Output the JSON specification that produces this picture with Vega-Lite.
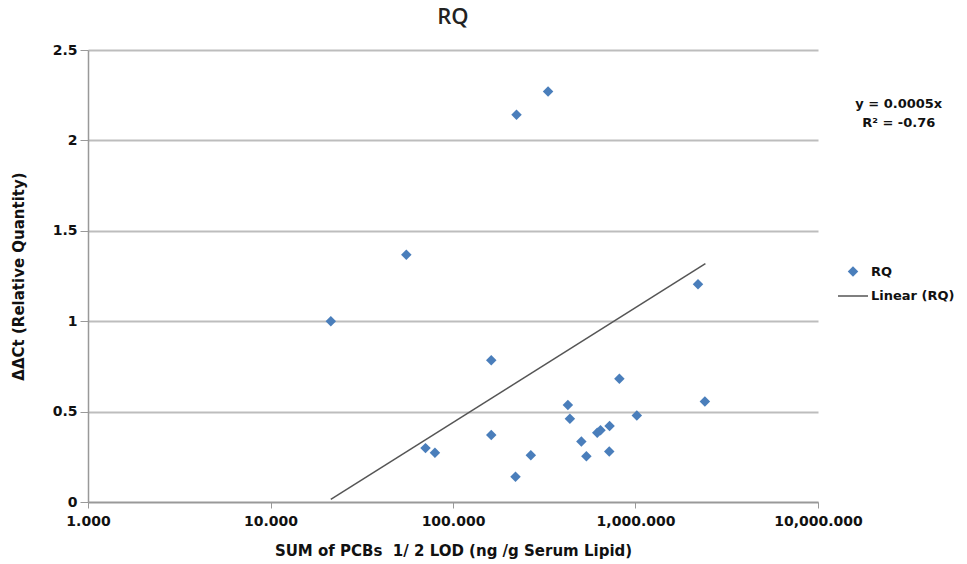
{
  "$schema": "https://vega.github.io/schema/vega-lite/v6.json",
  "width": 730,
  "height": 452,
  "padding": {"left": 11, "top": 6, "right": 0, "bottom": 5},
  "background": "white",
  "config": {"view": {"stroke": null}, "font": "DejaVu Sans"},
  "title": {"text": "RQ", "fontSize": 22, "font": "Open Sans", "fontWeight": 600, "color": "#222", "offset": 14},
  "datasets": {
    "pts": [
      {"x": 21400, "y": 1.0, "series": "RQ"},
      {"x": 55500, "y": 1.367, "series": "RQ"},
      {"x": 70700, "y": 0.298, "series": "RQ"},
      {"x": 79600, "y": 0.272, "series": "RQ"},
      {"x": 162000, "y": 0.784, "series": "RQ"},
      {"x": 162000, "y": 0.371, "series": "RQ"},
      {"x": 220000, "y": 0.139, "series": "RQ"},
      {"x": 222900, "y": 2.142, "series": "RQ"},
      {"x": 267000, "y": 0.259, "series": "RQ"},
      {"x": 331900, "y": 2.27, "series": "RQ"},
      {"x": 426000, "y": 0.536, "series": "RQ"},
      {"x": 437000, "y": 0.46, "series": "RQ"},
      {"x": 505000, "y": 0.335, "series": "RQ"},
      {"x": 538000, "y": 0.253, "series": "RQ"},
      {"x": 617000, "y": 0.383, "series": "RQ"},
      {"x": 643000, "y": 0.397, "series": "RQ"},
      {"x": 718000, "y": 0.279, "series": "RQ"},
      {"x": 721000, "y": 0.421, "series": "RQ"},
      {"x": 816000, "y": 0.682, "series": "RQ"},
      {"x": 1017000, "y": 0.479, "series": "RQ"},
      {"x": 2200000, "y": 1.205, "series": "RQ"},
      {"x": 2400000, "y": 0.556, "series": "RQ"}
    ],
    "trend": [
      {"x": 21400, "y": 0.015, "series": "Linear (RQ)"},
      {"x": 2415000, "y": 1.318, "series": "Linear (RQ)"}
    ],
    "notes": [
      {"x": 27700000, "y": 2.199, "label": "y = 0.0005x"},
      {"x": 27700000, "y": 2.099, "label": "R² = -0.76"}
    ]
  },
  "layer": [
    {
      "data": {"name": "pts"},
      "mark": {"type": "point", "filled": true, "opacity": 1, "strokeWidth": 1.5, "clip": false},
      "encoding": {
        "x": {
          "field": "x", "type": "quantitative",
          "scale": {"type": "log", "domain": [1000, 10000000], "nice": false},
          "axis": {
            "values": [1000, 10000, 100000, 1000000, 10000000],
            "labelExpr": "datum.value == 1000 ? '1.000' : datum.value == 10000 ? '10.000' : datum.value == 100000 ? '100.000' : datum.value == 1000000 ? '1,000.000' : '10,000.000'",
            "title": "SUM of PCBs\u00a0 1/ 2 LOD (ng /g Serum Lipid)",
            "titleFontSize": 15, "titleFontWeight": "bold", "titleColor": "#111", "titlePadding": 15,
            "labelFontSize": 14, "labelFontWeight": "bold", "labelColor": "#111", "labelPadding": 6,
            "grid": false, "domainColor": "#999", "domainWidth": 1.5, "tickColor": "#999", "tickSize": 6, "labelFlush": false
          }
        },
        "y": {
          "field": "y", "type": "quantitative",
          "scale": {"domain": [0, 2.5], "nice": false},
          "axis": {
            "values": [0, 0.5, 1, 1.5, 2, 2.5],
            "labelExpr": "datum.value + ''",
            "title": "ΔΔCt (Relative Quantity)",
            "titleFontSize": 15, "titleFontWeight": "bold", "titleColor": "#111", "titlePadding": 26,
            "labelFontSize": 14, "labelFontWeight": "bold", "labelColor": "#111", "labelPadding": 3,
            "grid": true, "gridColor": "#bdbdbd", "gridWidth": 2,
            "domainColor": "#999", "domainWidth": 1.5, "tickColor": "#999", "tickSize": 8
          }
        },
        "fill": {
          "field": "series", "type": "nominal",
          "scale": {"domain": ["RQ", "Linear (RQ)"], "range": ["#4a7ebb", "transparent"]},
          "legend": {
            "orient": "none", "legendX": 749, "legendY": 215, "title": null, "padding": 0,
            "labelFontSize": 13, "labelFontWeight": "bold", "labelColor": "#111",
            "rowPadding": -6, "labelOffset": 2, "symbolStrokeWidth": 1.5
          }
        },
        "stroke": {
          "field": "series", "type": "nominal",
          "scale": {"domain": ["RQ", "Linear (RQ)"], "range": ["transparent", "#555555"]}
        },
        "shape": {
          "field": "series", "type": "nominal",
          "scale": {"domain": ["RQ", "Linear (RQ)"], "range": ["diamond", "stroke"]}
        },
        "size": {
          "field": "series", "type": "nominal",
          "scale": {"domain": ["RQ", "Linear (RQ)"], "range": [110, 900]}
        }
      }
    },
    {
      "data": {"name": "trend"},
      "mark": {"type": "line", "color": "#555555", "strokeWidth": 1.5},
      "encoding": {
        "x": {"field": "x", "type": "quantitative"},
        "y": {"field": "y", "type": "quantitative"}
      }
    },
    {
      "data": {"name": "notes"},
      "mark": {"type": "text", "fontSize": 13, "fontWeight": "bold", "color": "#111", "clip": false},
      "encoding": {
        "x": {"field": "x", "type": "quantitative"},
        "y": {"field": "y", "type": "quantitative"},
        "text": {"field": "label"}
      }
    }
  ]
}
